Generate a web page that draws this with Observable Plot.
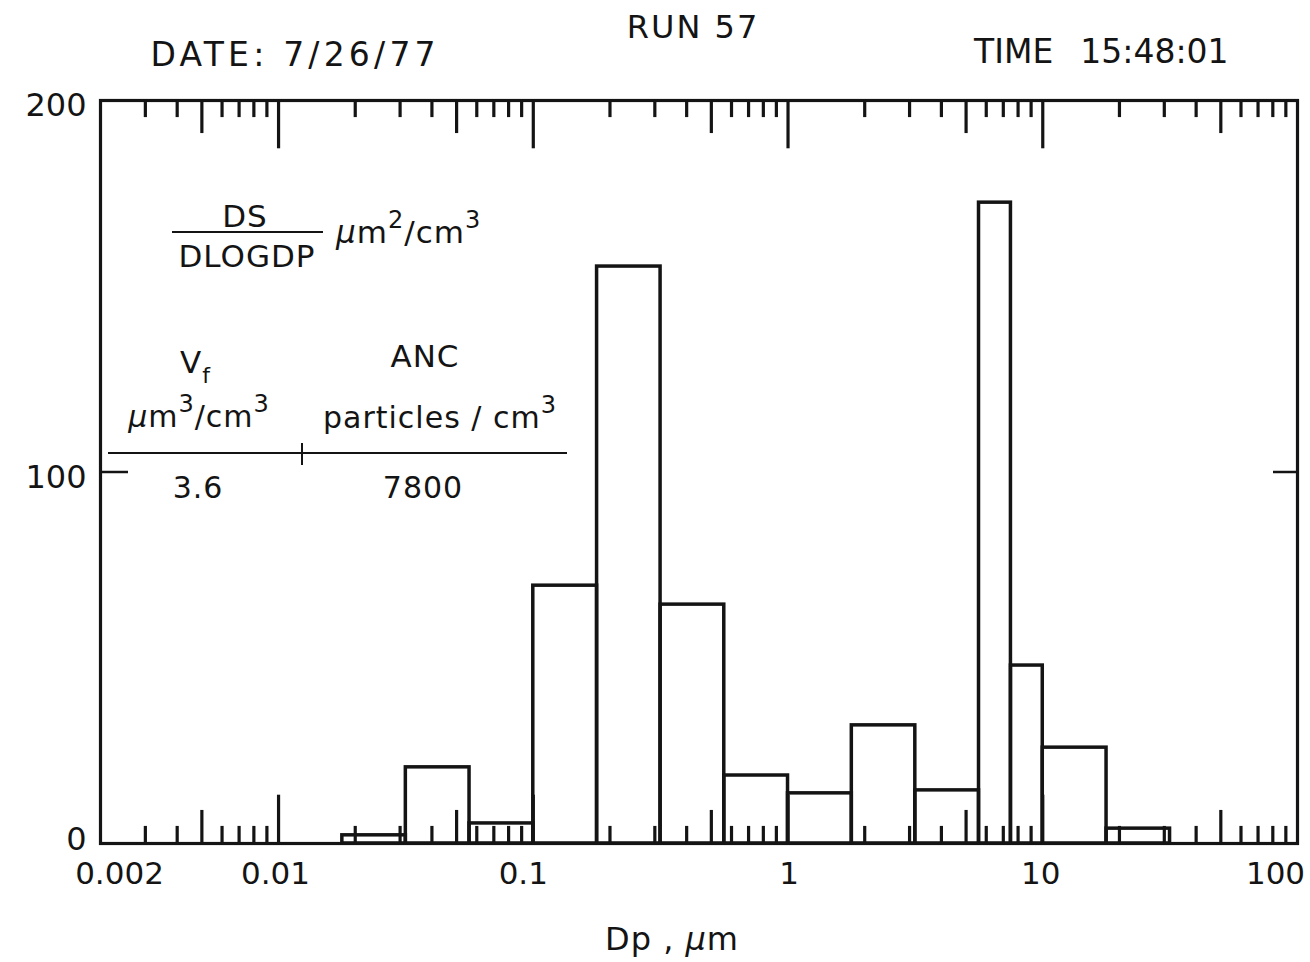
<!DOCTYPE html>
<html>
<head>
<meta charset="utf-8">
<script src="https://cdn.jsdelivr.net/npm/d3@7"></script>
<script src="https://cdn.jsdelivr.net/npm/@observablehq/plot@0.6"></script>
<style>
  html, body { margin: 0; padding: 0; background: #fff; }
  #chart svg { display: block; }
</style>
</head>
<body>
<div id="chart"></div>
<script>
// ---- data ----
const binLower = [0.0178, 0.0316, 0.0562, 0.1, 0.178, 0.316, 0.562, 1.0, 1.78, 3.16, 5.62, 7.5, 10, 17.8];
const binUpper = [0.0316, 0.0562, 0.1, 0.178, 0.316, 0.562, 1.0, 1.78, 3.16, 5.62, 7.5, 10, 17.8, 31.6];
const dsValues = [2.2, 20.5, 5.4, 69.4, 155.3, 64.3, 18.3, 13.5, 31.8, 14.3, 172.5, 47.9, 25.8, 4.0];

const xTickValues = [0.002, 0.01, 0.1, 1, 10, 100];
const xTickLabels = ["0.002", "0.01", "0.1", "1", "10", "100"];
const yTickValues = [0, 100, 200];
const yTickLabels = ["0", "100", "200"];
const decades = [0.001, 0.01, 0.1, 1, 10];
const multipliers = [2, 3, 4, 5, 6, 7, 8, 9];

const titleRun = "RUN 57";
const titleDate = "DATE: 7/26/77";
const titleTime = "TIME\u2002 15:48:01";
const xLabel = "Dp , ";
const vfValue = "3.6";
const ancValue = "7800";

// ---- derived tables ----
const bars = dsValues.map((v, i) => ({lo: binLower[i], hi: binUpper[i], v}));
const xmin = 0.002, xmax = 100;
const minorTicks = [];
for (const d of decades) for (const m of multipliers) {
  const v = +(d * m).toPrecision(3);
  if (v > xmin && v < xmax) minorTicks.push({v, kind: m === 5 ? "mid" : "short"});
}
const majorTicks = xTickValues.filter(v => v > xmin && v < xmax).map(v => ({v, kind: "long"}));
const allTicks = minorTicks.concat(majorTicks);
const tickLen = {short: 4.6, mid: 8.9, long: 13.0};

const INK = "#141414";
const FONT = "'DejaVu Sans', 'Liberation Sans', sans-serif";

// label nudges, as placed in the reference
const xLabelDx = [19, -3, -10, 1, -2, -22];
const yLabelDy = [-4, 6, 5];

function inset(index, scales, values, dims) {
  const ox = dims && dims.marginLeft != null ? dims.marginLeft : 100;
  const oy = dims && dims.marginTop != null ? dims.marginTop : 100;
  const g = d3.create("svg:g")
    .attr("transform", `translate(${ox},${oy})`)
    .attr("font-family", FONT)
    .attr("fill", INK);
  const txt = (x, y, anchor, size) => g.append("text")
    .attr("x", x).attr("y", y).attr("text-anchor", anchor)
    .attr("font-size", size).attr("letter-spacing", 1);
  txt(145, 127, "middle", 31).text("DS");
  g.append("line").attr("x1", 72).attr("x2", 223).attr("y1", 132).attr("y2", 132)
    .attr("stroke", INK).attr("stroke-width", 2.2);
  txt(147, 167, "middle", 31).text("DLOGDP");
  {
    const t = txt(236, 143, "start", 31);
    t.append("tspan").attr("font-style", "italic").text("\u03bc");
    t.append("tspan").text("m");
    t.append("tspan").attr("dy", -15).attr("font-size", 24).text("2");
    t.append("tspan").attr("dy", 15).text("/cm");
    t.append("tspan").attr("dy", -15).attr("font-size", 24).text("3");
  }
  {
    const t = txt(80, 273, "start", 31);
    t.append("tspan").text("V");
    t.append("tspan").attr("dy", 10).attr("font-size", 22).text("f");
  }
  txt(325, 267, "middle", 31).text("ANC");
  {
    const t = txt(99, 327, "middle", 30);
    t.append("tspan").attr("font-style", "italic").text("\u03bc");
    t.append("tspan").text("m");
    t.append("tspan").attr("dy", -15).attr("font-size", 24).text("3");
    t.append("tspan").attr("dy", 15).text("/cm");
    t.append("tspan").attr("dy", -15).attr("font-size", 24).text("3");
  }
  {
    const t = txt(340, 328, "middle", 30);
    t.append("tspan").text("particles / cm");
    t.append("tspan").attr("dy", -15).attr("font-size", 24).text("3");
  }
  g.append("line").attr("x1", 8).attr("x2", 467).attr("y1", 353).attr("y2", 353)
    .attr("stroke", INK).attr("stroke-width", 2);
  g.append("line").attr("x1", 202).attr("x2", 202).attr("y1", 343).attr("y2", 365)
    .attr("stroke", INK).attr("stroke-width", 2);
  txt(98, 398, "middle", 30).text(vfValue);
  txt(323, 398, "middle", 30).text(ancValue);
  return g.node();
}

function xAxisTitle(index, scales, values, dims) {
  const g = d3.create("svg:g").attr("font-family", FONT).attr("fill", INK);
  const t = g.append("text").attr("x", 672).attr("y", 950).attr("text-anchor", "middle")
    .attr("font-size", 32).attr("letter-spacing", 1);
  t.append("tspan").text(xLabel);
  t.append("tspan").attr("font-style", "italic").text("\u03bc");
  t.append("tspan").text("m");
  return g.node();
}

const xLabelMarks = xTickValues.map((v, i) =>
  Plot.text([v], {x: d => d, text: () => xTickLabels[i], frameAnchor: "bottom",
    lineAnchor: "top", dy: 18, dx: xLabelDx[i], fontSize: 31, fill: INK})
);
const yLabelMarks = yTickValues.map((v, i) =>
  Plot.text([v], {y: d => d, text: () => yTickLabels[i], frameAnchor: "left",
    textAnchor: "end", dx: -14, dy: yLabelDy[i], fontSize: 32, fill: INK})
);

const chart = Plot.plot({
  width: 1310,
  height: 962,
  marginTop: 100,
  marginLeft: 100,
  marginRight: 13,
  marginBottom: 119,
  style: {fontFamily: FONT, color: INK, background: "#fff"},
  x: {type: "log", domain: [xmin, xmax], axis: null},
  y: {domain: [0, 200], axis: null},
  marks: [
    Plot.rectY(bars, {x1: "lo", x2: "hi", y: "v", fill: "none", stroke: INK, strokeWidth: 3.5}),
    Plot.ruleX(allTicks, {x: "v", y1: 0, y2: d => tickLen[d.kind], stroke: INK, strokeWidth: 3.2}),
    Plot.ruleX(allTicks, {x: "v", y1: 200, y2: d => 200 - tickLen[d.kind], stroke: INK, strokeWidth: 3.2}),
    Plot.ruleY([100], {x1: xmin, x2: xmin * Math.pow(10, 28 / 254.7), stroke: INK, strokeWidth: 2.5}),
    Plot.ruleY([100], {x1: xmax * Math.pow(10, -24 / 254.7), x2: xmax, stroke: INK, strokeWidth: 2.5}),
    Plot.frame({stroke: INK, strokeWidth: 3.2}),
    ...xLabelMarks,
    ...yLabelMarks,
    Plot.text([titleDate], {text: d => d, frameAnchor: "top-left", textAnchor: "start", lineAnchor: "bottom",
      dx: 50, dy: -35, fontSize: 33, fill: INK}),
    Plot.text([titleRun], {text: d => d, frameAnchor: "top", textAnchor: "middle", lineAnchor: "bottom",
      dx: -6, dy: -63, fontSize: 32, fill: INK}),
    Plot.text([titleTime], {text: d => d, frameAnchor: "top-right", textAnchor: "end", lineAnchor: "bottom",
      dx: -69, dy: -38, fontSize: 33, fill: INK}),
    inset,
    xAxisTitle
  ]
});

// wider letter spacing on the header lines, as in the reference lettering
d3.select(chart).selectAll("text").each(function() {
  const s = this.textContent;
  if (s === titleDate) d3.select(this).attr("letter-spacing", 4.2);
  else if (s === titleRun) d3.select(this).attr("letter-spacing", 2);
});

document.getElementById("chart").append(chart);
</script>
</body>
</html>
